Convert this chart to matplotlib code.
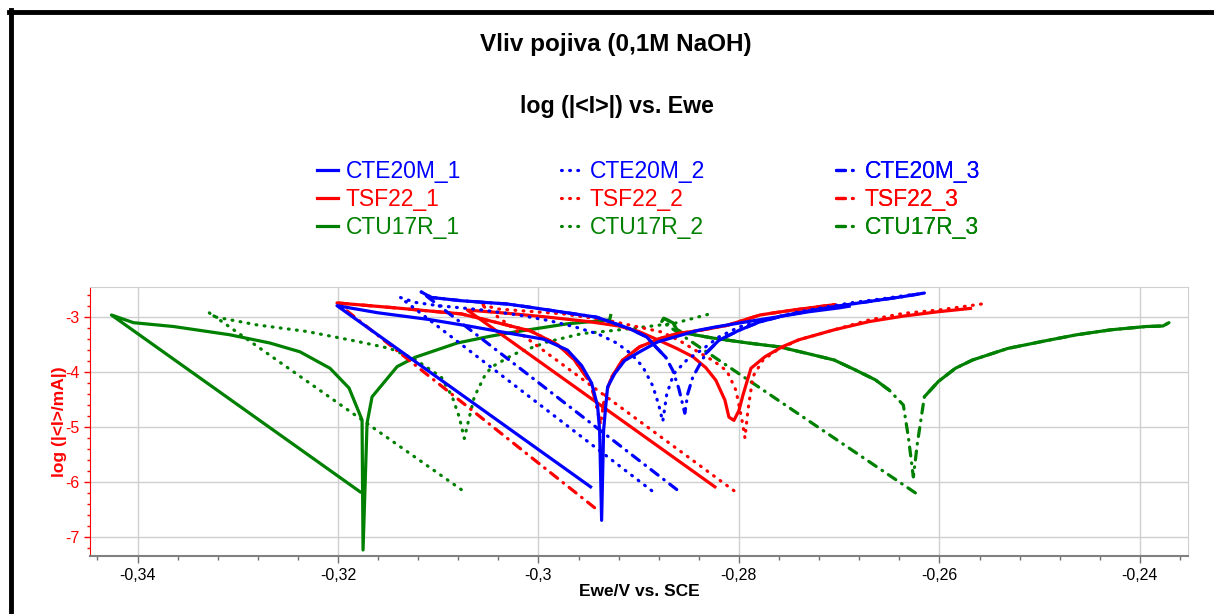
import numpy as np
import matplotlib.pyplot as plt
from matplotlib.lines import Line2D
from matplotlib.ticker import MultipleLocator, FuncFormatter

plt.rcParams['font.family'] = ['Liberation Sans', 'DejaVu Sans']

# potencial Ewe (V vs. SCE) a log(|I|/mA) pro kazdy vzorek
cte20m_1_e = [-0.2948, -0.3201, -0.3160, -0.3110, -0.3070, -0.3030, -0.2995, -0.2971, -0.2957, -0.2947,
              -0.2941, -0.2939, -0.2937, -0.2935, -0.2933, -0.2931, -0.2924, -0.2914, -0.2897, -0.2881,
              -0.2864, -0.2841, -0.2824, -0.2791, -0.2760, -0.2730, -0.2700, -0.2690]
cte20m_1_i = [-6.09, -2.79, -2.92, -3.04, -3.16, -3.29, -3.40, -3.60, -3.88, -4.20,
              -4.62, -5.06, -6.70, -5.06, -4.64, -4.27, -4.03, -3.79, -3.61, -3.45,
              -3.36, -3.24, -3.18, -3.08, -2.99, -2.90, -2.83, -2.80]

cte20m_2_e = [-0.2887, -0.3138, -0.3123, -0.3100, -0.3060, -0.3020, -0.2990, -0.2963, -0.2940, -0.2922,
              -0.2908, -0.2896, -0.2886, -0.2880, -0.2876, -0.2872, -0.2865, -0.2852, -0.2836, -0.2820,
              -0.2800, -0.2775, -0.2745, -0.2715, -0.2685, -0.2655, -0.2628]
cte20m_2_i = [-6.16, -2.64, -2.73, -2.79, -2.86, -2.96, -3.06, -3.18, -3.31, -3.47,
              -3.66, -3.90, -4.25, -4.60, -4.90, -4.40, -4.03, -3.78, -3.58, -3.36,
              -3.18, -3.05, -2.92, -2.82, -2.73, -2.66, -2.59]

cte20m_3_e = [-0.2862, -0.3117, -0.3107, -0.3077, -0.3031, -0.3008, -0.2975, -0.2942, -0.2909, -0.2892,
              -0.2883, -0.2873, -0.2866, -0.2860, -0.2854, -0.2851, -0.2846, -0.2833, -0.2820, -0.2800,
              -0.2780, -0.2755, -0.2725, -0.2695, -0.2665, -0.2638, -0.2615]
cte20m_3_i = [-6.14, -2.54, -2.64, -2.70, -2.76, -2.82, -2.91, -3.00, -3.21, -3.36,
              -3.54, -3.73, -3.97, -4.30, -4.75, -4.39, -4.09, -3.66, -3.42, -3.24,
              -3.09, -2.97, -2.87, -2.78, -2.70, -2.63, -2.56]

tsf22_1_e = [-0.2824, -0.3071, -0.3030, -0.2990, -0.2950, -0.2920, -0.2900, -0.2880, -0.2862, -0.2846,
             -0.2833, -0.2823, -0.2814, -0.2810, -0.2805, -0.2800, -0.2796, -0.2788, -0.2774, -0.2757,
             -0.2740, -0.2705, -0.2670, -0.2636, -0.2601, -0.2569]
tsf22_1_i = [-6.09, -2.87, -2.93, -3.00, -3.08, -3.16, -3.26, -3.42, -3.57, -3.72,
             -3.92, -4.15, -4.51, -4.82, -4.88, -4.70, -4.42, -3.93, -3.72, -3.54,
             -3.41, -3.23, -3.08, -2.98, -2.90, -2.84]

tsf22_2_e = [-0.2805, -0.3058, -0.3041, -0.2975, -0.2942, -0.2925, -0.2900, -0.2877, -0.2860, -0.2841,
             -0.2825, -0.2812, -0.2803, -0.2797, -0.2794, -0.2791, -0.2786, -0.2776, -0.2762, -0.2740,
             -0.2705, -0.2670, -0.2636, -0.2601, -0.2558]
tsf22_2_i = [-6.16, -2.76, -2.85, -2.94, -3.03, -3.08, -3.18, -3.27, -3.42, -3.63,
             -3.80, -3.98, -4.33, -4.87, -5.20, -4.69, -4.08, -3.78, -3.60, -3.41,
             -3.23, -3.05, -2.93, -2.87, -2.76]

tsf22_3_e = [-0.2944, -0.3201, -0.3143, -0.3077, -0.3041, -0.3008, -0.2981, -0.2965, -0.2951, -0.2945,
             -0.2938, -0.2934, -0.2927, -0.2916, -0.2899, -0.2879, -0.2862, -0.2839, -0.2812, -0.2779,
             -0.2750, -0.2725, -0.2704]
tsf22_3_i = [-6.47, -2.74, -2.83, -2.94, -3.10, -3.25, -3.50, -3.76, -4.12, -4.40,
             -4.95, -4.45, -4.09, -3.78, -3.54, -3.39, -3.30, -3.24, -3.15, -2.96,
             -2.88, -2.82, -2.77]

ctu17r_1_e = [-0.3178, -0.3426, -0.3404, -0.3364, -0.3308, -0.3268, -0.3238, -0.3208, -0.3189, -0.3176,
              -0.3175, -0.3171, -0.3166, -0.3141, -0.3123, -0.3081, -0.3049, -0.3024, -0.2971, -0.2929,
              -0.2928]
ctu17r_1_i = [-6.18, -2.96, -3.10, -3.17, -3.32, -3.47, -3.63, -3.93, -4.29, -4.87,
              -7.24, -4.93, -4.45, -3.90, -3.73, -3.47, -3.35, -3.27, -3.12, -3.05,
              -2.97]

ctu17r_2_e = [-0.3077, -0.3329, -0.3324, -0.3281, -0.3231, -0.3181, -0.3148, -0.3124, -0.3097, -0.3086,
              -0.3079, -0.3074, -0.3068, -0.3064, -0.3054, -0.3047, -0.3024, -0.2991, -0.2957, -0.2924,
              -0.2891, -0.2864, -0.2827]
ctu17r_2_i = [-6.14, -2.91, -2.99, -3.14, -3.26, -3.44, -3.57, -3.76, -4.09, -4.45,
              -4.82, -5.21, -4.75, -4.45, -4.08, -3.91, -3.67, -3.45, -3.30, -3.24,
              -3.17, -3.11, -2.93]

ctu17r_3_e = [-0.2624, -0.2877, -0.2875, -0.2866, -0.2862, -0.2857, -0.2826, -0.2791, -0.2760, -0.2732,
              -0.2705, -0.2684, -0.2664, -0.2650, -0.2636, -0.2631, -0.2626, -0.2622, -0.2615, -0.2601,
              -0.2584, -0.2567, -0.2532, -0.2497, -0.2463, -0.2429, -0.2394, -0.2377, -0.2371]
ctu17r_3_i = [-6.20, -3.08, -3.02, -3.10, -3.22, -3.28, -3.38, -3.47, -3.54, -3.66,
              -3.78, -3.96, -4.14, -4.33, -4.60, -5.18, -5.91, -5.30, -4.45, -4.17,
              -3.93, -3.78, -3.57, -3.44, -3.32, -3.23, -3.17, -3.16, -3.10]

dotted = (0, (0.25, 2.3))
dashdot = (0, (2.8, 2.2, 0.2, 2.2))
LW = 2.3

# (label, E, I, barva, styl) - poradi vykreslovani: zelena, cervena, modra
series = [
    ("CTU17R_1", ctu17r_1_e, ctu17r_1_i, "#008000", "-"),
    ("CTU17R_2", ctu17r_2_e, ctu17r_2_i, "#008000", dotted),
    ("CTU17R_3", ctu17r_3_e, ctu17r_3_i, "#008000", dashdot),
    ("TSF22_1", tsf22_1_e, tsf22_1_i, "#ff0000", "-"),
    ("TSF22_2", tsf22_2_e, tsf22_2_i, "#ff0000", dotted),
    ("TSF22_3", tsf22_3_e, tsf22_3_i, "#ff0000", dashdot),
    ("CTE20M_1", cte20m_1_e, cte20m_1_i, "#0000ff", "-"),
    ("CTE20M_2", cte20m_2_e, cte20m_2_i, "#0000ff", dotted),
    ("CTE20M_3", cte20m_3_e, cte20m_3_i, "#0000ff", dashdot),
]

# EC-Lab kresli carku-tecku po segmentech, husta data pak vypadaji plna;
# nad touto hodnotou log I se vetve dash-dot krivek kresli plne
dense_above = {"CTU17R_3": -4.5, "TSF22_3": -4.2, "CTE20M_3": -3.75}

fig = plt.figure(figsize=(12.14, 6.14), dpi=100)
ax = fig.add_axes([90 / 1214, 1 - 556 / 614, 1098 / 1214, 269 / 614])

lines = {}
for label, e, i, color, ls in series:
    ln, = ax.plot(e, i, color=color, linestyle=ls, linewidth=LW, label=label,
                  solid_joinstyle="round", dash_capstyle="round")
    lines[label] = ln
    if label in dense_above:
        y = np.array(i, dtype=float)
        keep = y > dense_above[label]
        keep[0] = False
        ax.plot(e, np.where(keep, y, np.nan), color=color, linewidth=LW,
                solid_joinstyle="round", solid_capstyle="round")

ax.set_xlim(-0.34474, -0.2352)
ax.set_ylim(-7.35, -2.45)

ax.xaxis.set_major_locator(MultipleLocator(0.02))
ax.xaxis.set_minor_locator(MultipleLocator(0.004))
ax.yaxis.set_major_locator(MultipleLocator(1))
ax.yaxis.set_minor_locator(MultipleLocator(0.2))
fmt = FuncFormatter(lambda v, p: f"{v:g}".replace(".", ","))
ax.xaxis.set_major_formatter(fmt)
ax.yaxis.set_major_formatter(fmt)

ax.grid(True, which="major", color="#cfcfcf", linewidth=1.0)
ax.set_axisbelow(True)

ax.tick_params(axis="x", which="major", length=5, width=1, color="#707070", labelsize=11.5, pad=4)
ax.tick_params(axis="x", which="minor", length=3, width=1, color="#707070")
ax.tick_params(axis="y", which="major", length=4, width=1, color="red", labelcolor="red", labelsize=11.5)
ax.tick_params(axis="y", which="minor", length=2.5, width=1, color="red")

ax.spines["left"].set_color("red")
ax.spines["bottom"].set_color("#808080")
ax.spines["bottom"].set_linewidth(1.5)
ax.spines["top"].set_color("#cfcfcf")
ax.spines["right"].set_color("#cfcfcf")

ax.set_xlabel("Ewe/V vs. SCE", fontsize=12.5, fontweight="bold", labelpad=0)
ax.set_ylabel("log (|<I>/mA|)", fontsize=12.5, fontweight="bold", color="red", labelpad=-1)

fig.text(0.507, 1 - 45 / 614, "Vliv pojiva (0,1M NaOH)", ha="center", va="center",
         fontsize=17.5, fontweight="bold")
fig.text(0.508, 1 - 107 / 614, "log (|<I>|) vs. Ewe", ha="center", va="center",
         fontsize=16.7, fontweight="bold")

# legenda ve trech sloupcich
columns = [
    (["CTE20M_1", "TSF22_1", "CTU17R_1"], 317),
    (["CTE20M_2", "TSF22_2", "CTU17R_2"], 561),
    (["CTE20M_3", "TSF22_3", "CTU17R_3"], 836),
]
for names, x0 in columns:
    handles = [lines[n] for n in names]
    leg = ax.legend(handles, names, loc="upper left", bbox_to_anchor=(x0 / 1214, 1 - 160 / 614),
                    bbox_transform=fig.transFigure, frameon=False, fontsize=16.5,
                    handlelength=0.9, handletextpad=0.35, labelspacing=0.22,
                    borderpad=0, borderaxespad=0, labelcolor="linecolor")
    ax.add_artist(leg)

# cerny ramecek snimku obrazovky (nahore a vlevo)
fig.add_artist(Line2D([9 / 1214, 1], [1 - 12 / 614, 1 - 12 / 614], color="black", linewidth=3.5))
fig.add_artist(Line2D([11 / 1214, 11 / 1214], [0, 1 - 10 / 614], color="black", linewidth=3.5))

fig.savefig("out.png", dpi=100)
